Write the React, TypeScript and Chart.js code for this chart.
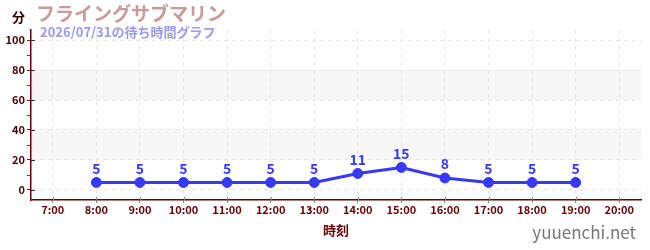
import React, { useEffect, useRef } from "react";
import { Chart, registerables } from "chart.js";

Chart.register(...registerables);

const categories = ["7:00","8:00","9:00","10:00","11:00","12:00","13:00","14:00","15:00","16:00","17:00","18:00","19:00","20:00"];
const waitTimes: (number | null)[] = [null, 5, 5, 5, 5, 5, 5, 11, 15, 8, 5, 5, 5, null];
const yTicks = [0, 20, 40, 60, 80, 100];
const minorTicks = [10, 30, 50, 70, 90];
const bands = [[20, 40], [60, 80]];
const unitLabel = "分";
const titleText = "フライングサブマリン";
const subtitleText = "2026/07/31の待ち時間グラフ";
const xTitle = "時刻";
const siteText = "yuuenchi.net";

const FONT = "'Noto Sans CJK JP', 'Noto Sans', sans-serif";

export default function App() {
  const ref = useRef<HTMLCanvasElement>(null);
  useEffect(() => {
    document.body.style.margin = "0";
    const ctx = ref.current!;
    const decor = {
      id: "decor",
      beforeDraw(chart: any) {
        const { ctx, chartArea, scales } = chart;
        const y = scales.y;
        ctx.save();
        ctx.fillStyle = "#f7f7f7";
        for (const [a, b] of bands) {
          const t = y.getPixelForValue(b);
          const btm = y.getPixelForValue(a);
          ctx.fillRect(chartArea.left, t, chartArea.right - chartArea.left, btm - t);
        }
        ctx.restore();
      },
      afterDraw(chart: any) {
        const { ctx, chartArea, scales } = chart;
        const y = scales.y;
        const x = scales.x;
        ctx.save();
        ctx.strokeStyle = "#dd0000";
        ctx.lineWidth = 1;
        for (const v of minorTicks) {
          const py = Math.round(y.getPixelForValue(v)) + 0.5;
          ctx.beginPath();
          ctx.moveTo(chartArea.left - 4, py);
          ctx.lineTo(chartArea.left - 1, py);
          ctx.stroke();
        }
        ctx.strokeStyle = "#333333";
        for (const v of yTicks) {
          const py = Math.round(y.getPixelForValue(v)) + 0.5;
          ctx.beginPath();
          ctx.moveTo(chartArea.left, py);
          ctx.lineTo(chartArea.left + 4, py);
          ctx.stroke();
        }
        ctx.strokeStyle = "#888888";
        categories.forEach((_, i) => {
          const px = Math.round(x.getPixelForValue(i)) + 0.5;
          ctx.beginPath();
          ctx.moveTo(px, chartArea.bottom - 3);
          ctx.lineTo(px, chartArea.bottom);
          ctx.stroke();
        });
        ctx.textBaseline = "middle";
        ctx.textAlign = "left";
        ctx.fillStyle = "#330000";
        ctx.font = `bold 13px ${FONT}`;
        ctx.fillText(unitLabel, 12, 17);
        ctx.fillStyle = "#c89a9a";
        ctx.font = `bold 19px ${FONT}`;
        ctx.fillText(titleText, 36, 14);
        ctx.fillStyle = "#9a9af0";
        ctx.font = `bold 13px ${FONT}`;
        ctx.fillText(subtitleText, 40, 32);
        ctx.fillStyle = "#777777";
        ctx.font = `17px ${FONT}`;
        ctx.textAlign = "right";
        ctx.fillText(siteText, 636, 233);
        ctx.restore();
      },
      afterDatasetsDraw(chart: any) {
        const { ctx } = chart;
        const meta = chart.getDatasetMeta(0);
        ctx.save();
        ctx.fillStyle = "#3838f8";
        ctx.font = `bold 14px ${FONT}`;
        ctx.textAlign = "center";
        ctx.textBaseline = "bottom";
        meta.data.forEach((pt: any, i: number) => {
          const v = waitTimes[i];
          if (v == null) return;
          ctx.fillText(String(v), pt.x, pt.y - 7);
        });
        ctx.restore();
      },
    };
    const chart = new Chart(ctx, {
      type: "line",
      data: {
        labels: categories,
        datasets: [
          {
            data: waitTimes,
            borderColor: "#3838f8",
            backgroundColor: "#3838f8",
            borderWidth: 3,
            pointRadius: 5,
            pointBorderWidth: 1,
            pointHoverRadius: 5,
            pointBackgroundColor: "#3838f8",
            pointBorderColor: "#3838f8",
            tension: 0,
          },
        ],
      },
      options: {
        animation: false,
        responsive: false,
        maintainAspectRatio: false,
        layout: { padding: { top: 30, right: 9, bottom: 0, left: 0 } },
        plugins: { legend: { display: false }, tooltip: { enabled: false } },
        scales: {
          x: {
            offset: true,
            grid: {
              display: true,
              color: "#e6e6e6",
              tickColor: "#888888",
              tickLength: 3,
              offset: false,
              drawOnChartArea: true,
            },
            border: { display: true, color: "#660000", width: 1.5, dash: [4, 4] },
            ticks: {
              color: "#660000",
              font: { family: FONT, size: 11, weight: "bold" },
              maxRotation: 0,
              autoSkip: false,
              padding: 0,
            },
            title: {
              display: true,
              text: xTitle,
              color: "#660000",
              font: { family: FONT, size: 13, weight: "bold" },
              padding: { top: 4, bottom: 12 },
            },
            afterFit(s: any) {
              s.height = 50;
            },
          } as any,
          y: {
            min: -6.67,
            max: 106.67,
            afterBuildTicks(s: any) {
              s.ticks = yTicks.map((v) => ({ value: v }));
            },
            grid: {
              color: "#e6e6e6",
              tickColor: "#333333",
              tickLength: 4,
            },
            border: { display: true, color: "#660000", width: 1.5, dash: [4, 4] },
            ticks: {
              color: "#440000",
              font: { family: FONT, size: 11, weight: "bold" },
              padding: 2,
            },
            afterFit(s: any) {
              s.width = 31;
            },
          } as any,
        },
      },
      plugins: [decor],
    });
    return () => chart.destroy();
  }, []);
  return (
    <div style={{ position: "absolute", left: 0, top: 0, width: 650, height: 250 }}>
      <canvas ref={ref} width={650} height={250} />
    </div>
  );
}
